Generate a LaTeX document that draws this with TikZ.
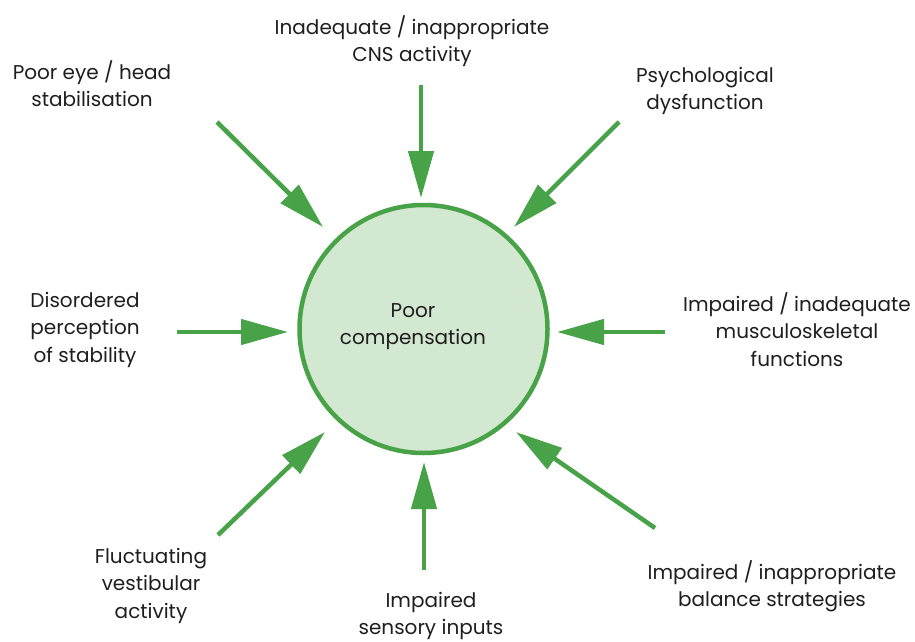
\documentclass[tikz,border=0pt]{standalone}
\usepackage{fontspec}
\setmainfont{Poppins}
\usetikzlibrary{arrows.meta}
\definecolor{arrgreen}{RGB}{72,163,72}
\definecolor{fillgreen}{RGB}{211,232,208}
\definecolor{txt}{RGB}{30,30,30}
\tikzset{
  lbl/.style={align=center, inner sep=0pt, anchor=north, text=txt,
    font=\fontsize{20}{27.5}\selectfont},
  arr/.style={draw=arrgreen, line width=4.5pt,
    -{Triangle[length=47pt,width=25pt]}},
  hub/.style={circle, draw=arrgreen, line width=4.5pt, fill=fillgreen,
    minimum size=248pt, inner sep=0pt}
}
\begin{document}
\begin{tikzpicture}[x=1pt,y=-1pt]
\useasboundingbox (0,0) rectangle (915,642);
\node[hub] (c) at (423.5,329) {};
\node[lbl] (cl) at (413,303) {Poor\\compensation};

\node[lbl] (t)  at (412,15) {Inadequate / inappropriate\\CNS activity};
\node[lbl] (tl) at (92,60) {Poor eye / head\\stabilisation};
\node[lbl] (tr) at (705,67) {Psychological\\dysfunction};
\node[lbl] (l)  at (85,292) {Disordered\\perception\\of stability};
\node[lbl] (r)  at (797,292) {Impaired / inadequate\\musculoskeletal\\functions};
\node[lbl] (bl) at (151,548) {Fluctuating\\vestibular\\activity};
\node[lbl] (b)  at (431,592) {Impaired\\sensory inputs};
\node[lbl] (br) at (772,560) {Impaired / inappropriate\\balance strategies};

\coordinate (t0) at (421,85);   \coordinate (t1) at (421,198);
\coordinate (tl0) at (217,122); \coordinate (tl1) at (323,227);
\coordinate (tr0) at (619,122); \coordinate (tr1) at (514,227);
\coordinate (l0) at (177,332);  \coordinate (l1) at (288,332);
\coordinate (r0) at (665,332);  \coordinate (r1) at (557,332);
\coordinate (bl0) at (218,535); \coordinate (bl1) at (325,432);
\coordinate (b0) at (424,570);  \coordinate (b1) at (424,462);
\coordinate (br0) at (655,528); \coordinate (br1) at (516,432);

\draw[arr] (t0) -- (t1);
\draw[arr] (tl0) -- (tl1);
\draw[arr] (tr0) -- (tr1);
\draw[arr] (l0) -- (l1);
\draw[arr] (r0) -- (r1);
\draw[arr] (bl0) -- (bl1);
\draw[arr] (b0) -- (b1);
\draw[arr] (br0) -- (br1);
\end{tikzpicture}
\end{document}
